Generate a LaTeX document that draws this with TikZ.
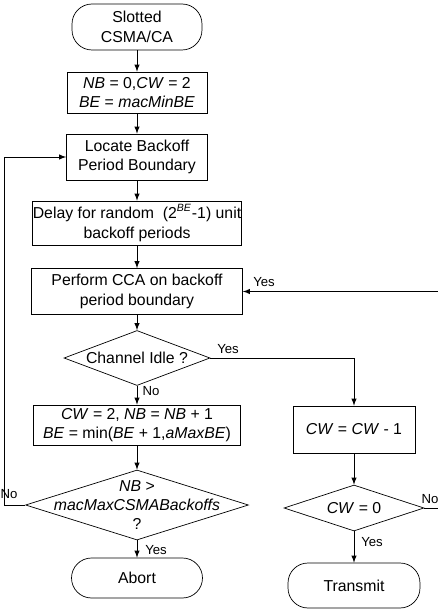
\documentclass[tikz,border=0pt]{standalone}
\usepackage{fontspec}
\setmainfont{Liberation Sans}
\usetikzlibrary{shapes,arrows,positioning,calc}

\begin{document}
\begin{tikzpicture}[
    x=0.02cm, y=-0.02cm,
    font=\fontsize{9}{11}\selectfont,
    terminal/.style={rectangle, rounded corners=0.4cm, draw, text centered, align=center, inner sep=0pt},
    process/.style={rectangle, draw, text centered, align=center, inner sep=0pt},
    decision/.style={diamond, draw, inner sep=0pt},
    flow/.style={draw, -latex, thin},
    tag/.style={font=\fontsize{7.5}{9}\selectfont, inner sep=0pt}
]
\useasboundingbox (0,0) rectangle (438,611);

% Left column
\node (start) [terminal, minimum width=2.6cm, minimum height=0.92cm] at (137,27) {Slotted\\CSMA/CA};
\node (init) [process, minimum width=2.8cm, minimum height=0.82cm] at (137,92.5) {\textit{NB} = 0,\textit{CW} = 2\\\textit{BE} = \textit{macMinBE}};
\node (locate) [process, minimum width=2.82cm, minimum height=0.92cm] at (137,157) {Locate Backoff\\Period Boundary};
\node (delay) [process, minimum width=4.16cm, minimum height=0.88cm] at (137,223) {Delay for random\ \ (2\textsuperscript{\textit{BE}}-1) unit\\backoff periods};
\node (cca) [process, minimum width=4.22cm, minimum height=0.92cm] at (137,291.5) {Perform CCA on backoff\\period boundary};
\node (idle) [decision, minimum width=2.92cm, minimum height=1.1cm] at (137,358) {};
\node (idletxt) at (idle) {Channel Idle ?};
\node (update) [process, minimum width=4.14cm, minimum height=0.8cm] at (137,425) {\textit{CW} = 2, \textit{NB} = \textit{NB} + 1\\\textit{BE} = min(\textit{BE} + 1,\textit{aMaxBE})};
\node (check) [decision, minimum width=4.46cm, minimum height=1.4cm] at (137,505) {};
\node (checktxt) [align=center] at (check) {\textit{NB} >\\\textit{macMaxCSMABackoffs}\\?};
\node (abort) [terminal, minimum width=2.62cm, minimum height=0.8cm] at (137,578) {Abort};

% Right column
\node (dec) [process, minimum width=2.44cm, minimum height=0.94cm] at (354,429.5) {\textit{CW} = \textit{CW} - 1};
\node (cwzero) [decision, minimum width=2.8cm, minimum height=0.92cm] at (354,508) {};
\node (cwzerotxt) at (cwzero) {\textit{CW} = 0};
\node (transmit) [terminal, minimum width=2.64cm, minimum height=0.9cm] at (354,585.5) {Transmit};

% Connections
\draw[flow] (start) -- (init);
\draw[flow] (init) -- (locate);
\draw[flow] (locate) -- (delay);
\draw[flow] (delay) -- (cca);
\draw[flow] (cca) -- (idle);
\draw[flow] (idle) -- (update);
\draw[flow] (update) -- (check);
\draw[flow] (check) -- (abort);
\draw[flow] (idle.east) -| (dec.north);
\draw[flow] (dec) -- (cwzero);
\draw[flow] (cwzero) -- (transmit);

\coordinate (loopcorner) at (4,505);
\draw[flow] (check.west) -- (loopcorner) |- (locate.west);
\coordinate (retcorner) at (441,508);
\draw[flow] (cwzero.east) -- (retcorner) |- (cca.east);

% Labels
\node (yesidle) [tag] at (228,349) {Yes};
\node (noidle) [tag] at (151,391) {No};
\node (nocheck) [tag] at (9,494) {No};
\node (yescheck) [tag] at (156,550) {Yes};
\node (yescca) [tag] at (264,282) {Yes};
\node (yescw) [tag] at (372,542) {Yes};
\node (nocw) [tag] at (430,499) {No};

\end{tikzpicture}
\end{document}
